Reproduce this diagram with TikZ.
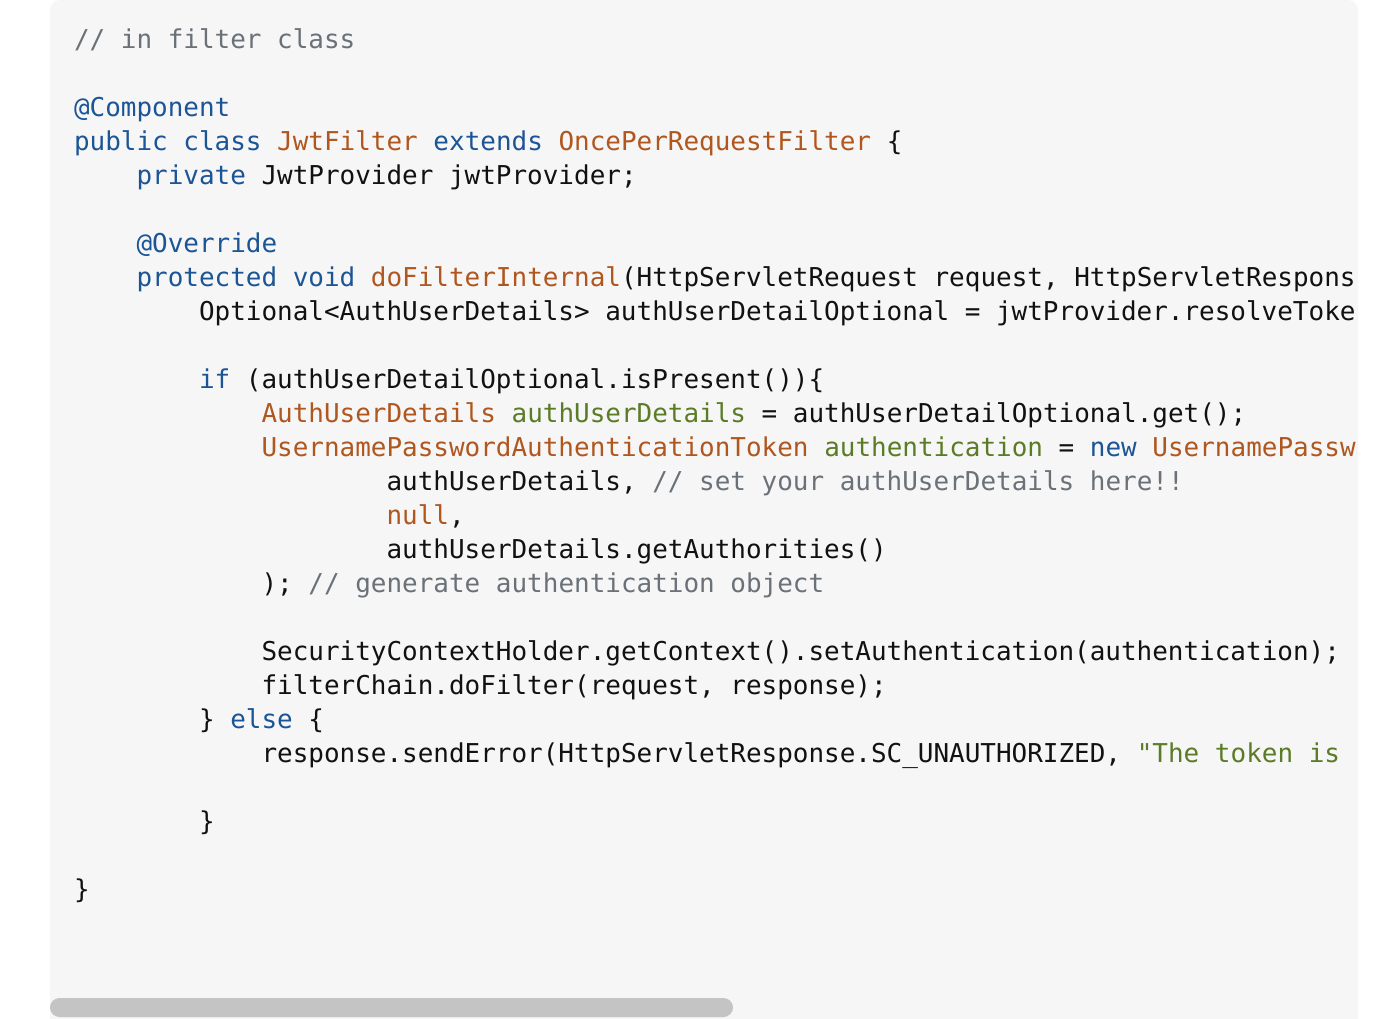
\documentclass[tikz,border=0pt]{standalone}
\usepackage{fontspec}
\setmonofont{DejaVu Sans Mono}
\definecolor{panelbg}{HTML}{F6F6F6}
\definecolor{kwblue}{HTML}{1C5596}
\definecolor{tyorange}{HTML}{B0571F}
\definecolor{vargreen}{HTML}{5B7B26}
\definecolor{cmtgray}{HTML}{6A7178}
\definecolor{plain}{HTML}{111111}
\definecolor{scrollgray}{HTML}{C4C4C4}
\tikzset{
  code/.style={anchor=base west, inner sep=0pt, outer sep=0pt, font=\ttfamily\fontsize{25.96}{34}\selectfont},
}
\newcommand\codeseg[5]{\node[code,text=#4] (#1) at ({74+#2*15.63},{48+#3*34}) {#5};}
\begin{document}
\begin{tikzpicture}[x=1pt,y=-1pt]
\useasboundingbox (0,0) rectangle (1386,1018);
\fill[panelbg, rounded corners=10] (50,1040) -- (50,0) -- (1358,0) -- (1358,1040) -- cycle;
\begin{scope}
\clip (50,0) rectangle (1358,1018);
\codeseg{c0}{0}{0}{cmtgray}{// in filter class}
\codeseg{c2}{0}{2}{kwblue}{@Component}
\codeseg{c3a}{0}{3}{kwblue}{public class}
\codeseg{c3b}{13}{3}{tyorange}{JwtFilter}
\codeseg{c3c}{23}{3}{kwblue}{extends}
\codeseg{c3d}{31}{3}{tyorange}{OncePerRequestFilter}
\codeseg{c3e}{52}{3}{plain}{\{}
\codeseg{c4a}{4}{4}{kwblue}{private}
\codeseg{c4b}{12}{4}{plain}{JwtProvider jwtProvider;}
\codeseg{c6}{4}{6}{kwblue}{@Override}
\codeseg{c7a}{4}{7}{kwblue}{protected void}
\codeseg{c7b}{19}{7}{tyorange}{doFilterInternal}
\codeseg{c7c}{35}{7}{plain}{(HttpServletRequest request, HttpServletRespons}
\codeseg{c8}{8}{8}{plain}{Optional<AuthUserDetails> authUserDetailOptional = jwtProvider.resolveToke}
\codeseg{c10a}{8}{10}{kwblue}{if}
\codeseg{c10b}{11}{10}{plain}{(authUserDetailOptional.isPresent())\{}
\codeseg{c11a}{12}{11}{tyorange}{AuthUserDetails}
\codeseg{c11b}{28}{11}{vargreen}{authUserDetails}
\codeseg{c11c}{44}{11}{plain}{= authUserDetailOptional.get();}
\codeseg{c12a}{12}{12}{tyorange}{UsernamePasswordAuthenticationToken}
\codeseg{c12b}{48}{12}{vargreen}{authentication}
\codeseg{c12c}{63}{12}{plain}{=}
\codeseg{c12d}{65}{12}{kwblue}{new}
\codeseg{c12e}{69}{12}{tyorange}{UsernamePassw}
\codeseg{c13a}{20}{13}{plain}{authUserDetails,}
\codeseg{c13b}{37}{13}{cmtgray}{// set your authUserDetails here!!}
\codeseg{c14a}{20}{14}{tyorange}{null}
\codeseg{c14b}{24}{14}{plain}{,}
\codeseg{c15}{20}{15}{plain}{authUserDetails.getAuthorities()}
\codeseg{c16a}{12}{16}{plain}{);}
\codeseg{c16b}{15}{16}{cmtgray}{// generate authentication object}
\codeseg{c18}{12}{18}{plain}{SecurityContextHolder.getContext().setAuthentication(authentication);}
\codeseg{c19}{12}{19}{plain}{filterChain.doFilter(request, response);}
\codeseg{c20a}{8}{20}{plain}{\}}
\codeseg{c20b}{10}{20}{kwblue}{else}
\codeseg{c20c}{15}{20}{plain}{\{}
\codeseg{c21a}{12}{21}{plain}{response.sendError(HttpServletResponse.SC\_UNAUTHORIZED,}
\codeseg{c21b}{68}{21}{vargreen}{"The token is}
\codeseg{c23}{8}{23}{plain}{\}}
\codeseg{c25}{0}{25}{plain}{\}}
\end{scope}
\fill[scrollgray, rounded corners=9.5] (50,998) rectangle (733,1017);
\end{tikzpicture}
\end{document}
